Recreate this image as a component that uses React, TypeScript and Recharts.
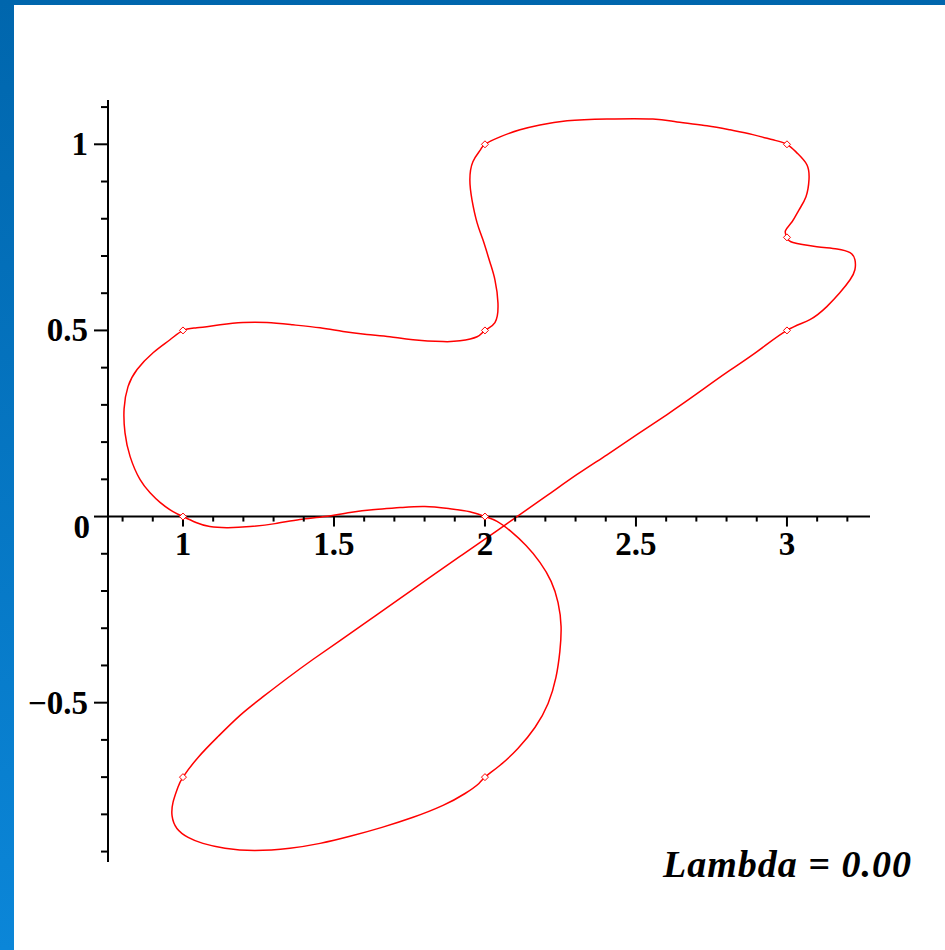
import { ComposedChart, Line, Scatter, XAxis, YAxis, ReferenceLine, ReferenceDot } from 'recharts';

// control points of the closed curve (diamonds)
const knotX = [1, 1, 2, 2, 3, 3, 3, 1, 2, 2];
const knotY = [0, 0.5, 0.5, 1, 1, 0.75, 0.5, -0.7, -0.7, 0];

// curve, traced piece by piece
const leftLoop = [
  [1, 0], [0.967, 0.013], [0.924, 0.038], [0.891, 0.064], [0.858, 0.099], [0.825, 0.161],
  [0.808, 0.225], [0.805, 0.29], [0.818, 0.349], [0.848, 0.395], [0.901, 0.44],
  [0.957, 0.475], [1, 0.5],
];
const upperEdge = [
  [1.046, 0.507], [1.123, 0.515], [1.199, 0.521], [1.278, 0.521], [1.364, 0.515], [1.454, 0.507],
  [1.53, 0.497], [1.609, 0.489], [1.685, 0.483], [1.762, 0.475], [1.861, 0.47], [1.917, 0.472],
  [1.974, 0.483], [2, 0.5],
];
const middleRise = [
  [2.033, 0.521], [2.043, 0.574], [2.033, 0.636], [2.017, 0.682], [1.993, 0.744], [1.974, 0.789],
  [1.957, 0.851], [1.95, 0.905], [1.96, 0.953], [1.985, 0.985], [2, 1],
];
const topArc = [
  [2.05, 1.02], [2.116, 1.039], [2.182, 1.052], [2.272, 1.063], [2.404, 1.068], [2.556, 1.068],
  [2.636, 1.06], [2.735, 1.05], [2.811, 1.039], [2.887, 1.026], [2.954, 1.012], [3, 1],
];
const rightNotch = [
  [3.033, 0.977], [3.066, 0.945], [3.073, 0.905], [3.063, 0.859], [3.04, 0.824], [3.017, 0.792],
  [2.995, 0.768], [3, 0.75], [3.02, 0.736], [3.099, 0.725], [3.166, 0.719], [3.209, 0.709],
  [3.225, 0.69], [3.225, 0.663], [3.209, 0.636], [3.175, 0.601], [3.132, 0.564], [3.076, 0.529],
  [3, 0.5],
];
const diagonal = [
  [2.901, 0.443], [2.801, 0.387], [2.702, 0.33], [2.603, 0.274], [2.503, 0.22], [2.404, 0.166],
  [2.305, 0.113], [2.205, 0.056], [2.106, 0], [2.026, -0.046], [1.917, -0.107], [1.808, -0.169],
  [1.719, -0.22], [1.619, -0.277], [1.52, -0.333], [1.43, -0.384], [1.344, -0.435],
  [1.262, -0.486], [1.189, -0.534], [1.116, -0.591], [1.05, -0.647], [1, -0.7],
];
const bottomArc = [
  [0.983, -0.728], [0.967, -0.768], [0.964, -0.805], [0.98, -0.838], [1.017, -0.862],
  [1.066, -0.878], [1.139, -0.891], [1.238, -0.897], [1.354, -0.891], [1.454, -0.878],
  [1.553, -0.859], [1.659, -0.835], [1.762, -0.808], [1.861, -0.776], [1.934, -0.744],
  [1.98, -0.717], [2, -0.7],
];
const rightBulge = [
  [2.05, -0.668], [2.109, -0.623], [2.166, -0.566], [2.209, -0.502], [2.235, -0.432],
  [2.248, -0.362], [2.252, -0.295], [2.242, -0.231], [2.219, -0.174], [2.182, -0.123],
  [2.136, -0.078], [2.086, -0.04], [2.04, -0.013], [2, 0],
];
const lowerEdge = [
  [1.95, 0.013], [1.884, 0.021], [1.801, 0.027], [1.719, 0.024], [1.636, 0.019], [1.553, 0.011],
  [1.47, 0], [1.387, -0.008], [1.305, -0.019], [1.222, -0.027], [1.149, -0.03], [1.089, -0.027],
  [1.043, -0.016], [1, 0],
];

const xTicks = [0.8, 0.9, 1, 1.1, 1.2, 1.3, 1.4, 1.5, 1.6, 1.7, 1.8, 1.9, 2, 2.1, 2.2, 2.3, 2.4, 2.5, 2.6, 2.7, 2.8, 2.9, 3, 3.1, 3.2];
const yTicks = [-0.9, -0.8, -0.7, -0.6, -0.5, -0.4, -0.3, -0.2, -0.1, 0, 0.1, 0.2, 0.3, 0.4, 0.5, 0.6, 0.7, 0.8, 0.9, 1, 1.1];

const curve = [...leftLoop, ...upperEdge, ...middleRise, ...topArc, ...rightNotch, ...diagonal, ...bottomArc, ...rightBulge, ...lowerEdge]
  .map(([x, y]) => ({ x, y }));
const knots = knotX.map((x, i) => ({ x, y: knotY[i] }));

const FONT = '"Liberation Serif", "DejaVu Serif", serif';
const isMajor = (v: number) => Math.abs(v * 2 - Math.round(v * 2)) < 1e-6;
const fmt = (v: number) => (v < 0 ? '\u2212' + String(-v) : String(v));

const YTick = ({ x, y, payload }: any) => {
  const v = payload.value;
  const major = isMajor(v);
  const zero = Math.abs(v) < 1e-9;
  return (
    <g>
      <line x1={x - (major ? 14 : 7)} x2={x} y1={y} y2={y} stroke="#000" strokeWidth={2} />
      {major && !zero && (
        <text x={x - 20} y={y + 11} textAnchor="end" fontFamily={FONT} fontWeight="bold" fontSize={33} fill="#000">
          {fmt(v)}
        </text>
      )}
      {zero && (
        <text x={x - 18} y={y + 21} textAnchor="end" fontFamily={FONT} fontWeight="bold" fontSize={33} fill="#000">
          0
        </text>
      )}
    </g>
  );
};

const xTickShape = (v: number) => (p: any) => {
  const major = isMajor(v);
  return (
    <g>
      <line x1={p.cx} x2={p.cx} y1={p.cy} y2={p.cy + (major ? 10 : 5)} stroke="#000" strokeWidth={2} />
      {major && (
        <text x={p.cx} y={p.cy + 38} textAnchor="middle" fontFamily={FONT} fontWeight="bold" fontSize={33} fill="#000">
          {fmt(v)}
        </text>
      )}
    </g>
  );
};

const Diamond = ({ cx, cy }: any) => (
  <polygon
    points={`${cx},${cy - 3.5} ${cx + 3.5},${cy} ${cx},${cy + 3.5} ${cx - 3.5},${cy}`}
    fill="#fff"
    stroke="#ff0000"
    strokeWidth={1}
  />
);

export default function App() {
  return (
    <div
      style={{
        position: 'absolute', left: 0, top: 0, width: 945, height: 950, overflow: 'hidden',
        background: 'linear-gradient(to bottom, #0066ad, #0b86d8)',
      }}
    >
      <div style={{ position: 'absolute', left: 14, top: 5, right: 0, bottom: 0, background: '#fff' }} />
      <div style={{ position: 'absolute', left: 0, top: 0 }}>
        <ComposedChart width={945} height={950} margin={{ top: 100, right: 75, bottom: 88, left: 8 }}>
          <XAxis type="number" dataKey="x" domain={[0.7517, 3.275]} allowDataOverflow hide />
          <YAxis
            type="number"
            domain={[-0.928, 1.119]}
            allowDataOverflow
            width={100}
            ticks={yTicks}
            interval={0}
            tickSize={0}
            tickMargin={0}
            tickLine={false}
            tick={<YTick />}
            axisLine={{ stroke: '#000', strokeWidth: 2 }}
          />
          <ReferenceLine y={0} stroke="#000" strokeWidth={2} />
          {xTicks.map((v) => (
            <ReferenceDot key={v} x={v} y={0} r={0} ifOverflow="visible" shape={xTickShape(v)} />
          ))}
          <Line
            data={curve}
            dataKey="y"
            type="natural"
            stroke="#ff0000"
            strokeWidth={1.5}
            dot={false}
            activeDot={false}
            isAnimationActive={false}
          />
          <Scatter data={knots} dataKey="y" shape={<Diamond />} isAnimationActive={false} />
        </ComposedChart>
      </div>
      <svg width={945} height={950} style={{ position: 'absolute', left: 0, top: 0, pointerEvents: 'none' }}>
        <text x={663} y={877} fontFamily={FONT} fontWeight="bold" fontStyle="italic" fontSize={38} letterSpacing={1} fill="#000">
          Lambda = 0.00
        </text>
      </svg>
    </div>
  );
}
